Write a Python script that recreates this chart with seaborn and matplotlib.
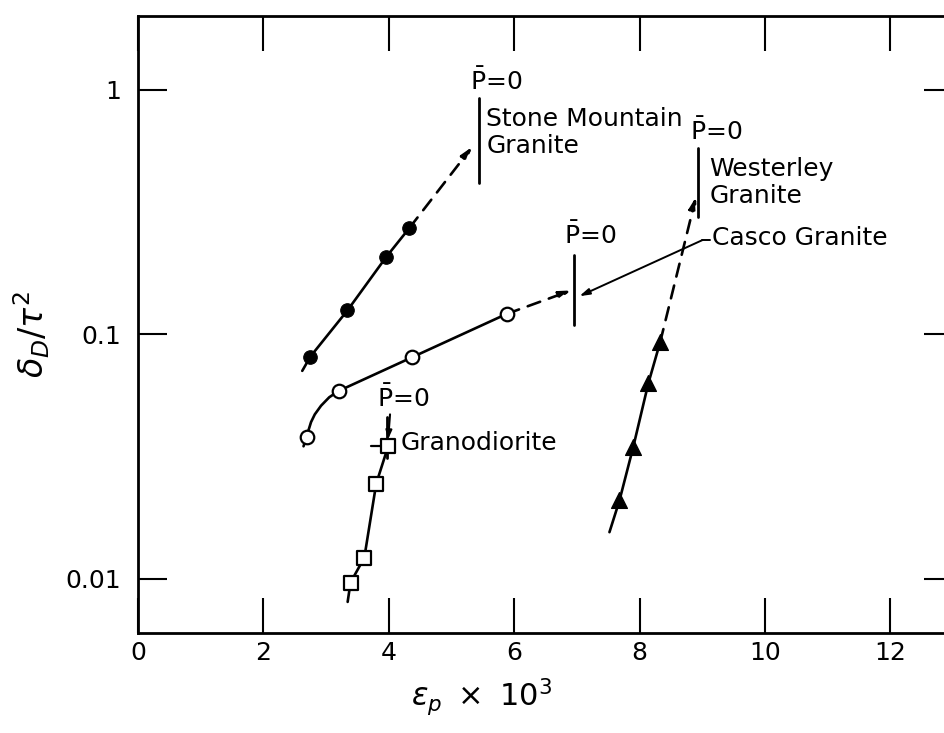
import numpy as np
import pandas as pd
import matplotlib
matplotlib.use("Agg")
import matplotlib.pyplot as plt
import seaborn as sns

# ---- data ----
stone_x = [2.75, 3.34, 3.96, 4.33]
stone_y = [0.081, 0.125, 0.207, 0.272]
casco_x = [2.69, 3.20, 4.37, 5.88]
casco_y = [0.038, 0.0586, 0.0808, 0.121]
grano_x = [3.39, 3.61, 3.80, 3.99]
grano_y = [0.00965, 0.0122, 0.0245, 0.0348]
wester_x = [7.68, 7.90, 8.14, 8.33]
wester_y = [0.0209, 0.0346, 0.0629, 0.093]

# fitted-curve guides
stone_start = (2.62, 0.0708)
stone_tip = (5.33, 0.583)
casco_curve_x = [2.64, 2.69, 2.72, 2.76, 2.82, 2.92, 3.05, 3.20, 5.88]
casco_curve_y = [0.0348, 0.038, 0.0405, 0.0437, 0.0470, 0.0510, 0.0552, 0.0586, 0.121]
casco_tip = (6.91, 0.151)
grano_start = (3.344, 0.00804)
wester_start = (7.52, 0.0155)
wester_tip = (8.90, 0.364)

# P=0 bars: x, y_low, y_high
pzero_bars = {
    "stone": (5.445, 0.415, 0.923),
    "casco": (6.96, 0.109, 0.210),
    "grano": (3.97, 0.0311, 0.0458),
    "wester": (8.94, 0.302, 0.576),
}

x_ticks = [0, 2, 4, 6, 8, 10, 12]
y_ticks = [0.01, 0.1, 1]
y_tick_labels = ["0.01", "0.1", "1"]

sns.set_style("ticks")
plt.rcParams["font.family"] = ["DejaVu Sans"]
plt.rcParams["mathtext.fontset"] = "dejavusans"
plt.rcParams["text.color"] = "black"
plt.rcParams["axes.labelcolor"] = "black"
plt.rcParams["xtick.color"] = "black"
plt.rcParams["ytick.color"] = "black"

fig = plt.figure(figsize=(9.45, 7.33), dpi=100)
ax = fig.add_axes([138 / 945, 100 / 733, (953 - 138) / 945, (633 - 16) / 733])
ax.set_yscale("log")
ax.set_xlim(0, 13)
ax.set_ylim(0.006, 2.0)

K = "black"
LW = 1.9

def line(xs, ys, **kw):
    df = pd.DataFrame({"x": xs, "y": ys})
    sns.lineplot(data=df, x="x", y="y", ax=ax, color=K, lw=kw.pop("lw", LW),
                 sort=False, estimator=None, legend=False, **kw)

def dashed_arrow(p0, p1):
    ax.annotate("", xy=p1, xytext=p0,
                arrowprops=dict(arrowstyle="-|>,head_length=0.7,head_width=0.22",
                                linestyle=(0, (5, 3.5)), lw=LW, color=K,
                                shrinkA=0, shrinkB=0))

# Stone Mountain
line([stone_start[0]] + stone_x, [stone_start[1]] + stone_y)
dashed_arrow((stone_x[-1], stone_y[-1]), stone_tip)
sns.scatterplot(x=stone_x, y=stone_y, ax=ax, marker="o", s=95, color=K,
                edgecolor=K, zorder=5, legend=False)

# Casco
line(casco_curve_x, casco_curve_y)
dashed_arrow((casco_x[-1], casco_y[-1]), casco_tip)
sns.scatterplot(x=casco_x, y=casco_y, ax=ax, marker="o", s=95, facecolor="white",
                edgecolor=K, linewidth=1.6, zorder=5, legend=False)

# Granodiorite
line([grano_start[0]] + grano_x, [grano_start[1]] + grano_y)
sns.scatterplot(x=grano_x, y=grano_y, ax=ax, marker="s", s=90, facecolor="white",
                edgecolor=K, linewidth=1.6, zorder=5, legend=False)
ax.annotate("", xy=(grano_x[-1], 0.0372), xytext=(4.02, 0.047),
            arrowprops=dict(arrowstyle="-|>,head_length=0.5,head_width=0.18",
                            lw=1.5, color=K, shrinkA=0, shrinkB=0))
ax.plot([3.72, 3.92], [grano_y[-1], grano_y[-1]], color=K, lw=1.6)

# Westerley
line([wester_start[0]] + wester_x, [wester_start[1]] + wester_y)
dashed_arrow((wester_x[-1], wester_y[-1]), wester_tip)
sns.scatterplot(x=wester_x, y=wester_y, ax=ax, marker="^", s=130, color=K,
                edgecolor=K, zorder=5, legend=False)

# P=0 bars
for xb, ylo, yhi in pzero_bars.values():
    ax.plot([xb, xb], [ylo, yhi], color=K, lw=2.0)

# Casco leader
ax.plot([9.0, 9.13], [0.2423, 0.2423], color=K, lw=1.4)
ax.annotate("", xy=(7.04, 0.143), xytext=(9.0, 0.2423),
            arrowprops=dict(arrowstyle="-|>,head_length=0.6,head_width=0.18",
                            lw=1.4, color=K, shrinkA=0, shrinkB=0))

# Text labels
FS = 18
pbar = r"$\bar{\mathrm{P}}$=0"
ax.text(5.30, 1.076, pbar, fontsize=FS, ha="left", va="center")
ax.text(5.556, 0.667, "Stone Mountain\nGranite", fontsize=FS, ha="left",
        va="center", linespacing=1.15)
ax.text(8.805, 0.672, pbar, fontsize=FS, ha="left", va="center")
ax.text(9.115, 0.417, "Westerley\nGranite", fontsize=FS, ha="left",
        va="center", linespacing=1.15)
ax.text(6.80, 0.254, pbar, fontsize=FS, ha="left", va="center")
ax.text(9.16, 0.247, "Casco Granite", fontsize=FS, ha="left", va="center")
ax.text(3.818, 0.0547, pbar, fontsize=FS, ha="left", va="center")
ax.text(4.196, 0.0358, "Granodiorite", fontsize=FS, ha="left", va="center")

# Axes styling
ax.set_xticks(x_ticks)
ax.set_xticklabels([str(t) for t in x_ticks])
ax.set_yticks(y_ticks)
ax.set_yticklabels(y_tick_labels)
ax.yaxis.set_minor_locator(matplotlib.ticker.NullLocator())
ax.tick_params(axis="x", which="major", direction="in", length=25, width=1.5,
               top=True, bottom=True, labelsize=18, pad=6, colors=K)
ax.tick_params(axis="y", which="major", direction="in", length=21, width=1.5,
               left=True, right=True, labelsize=18, pad=12, colors=K)
for sp in ax.spines.values():
    sp.set_visible(True)
    sp.set_linewidth(2.0)
    sp.set_color(K)

ax.set_xlabel(r"$\epsilon_p\ \times\ 10^3$", fontsize=22, color=K)
ax.xaxis.set_label_coords(0.421, -0.07)
ax.set_ylabel(r"$\delta_D/\tau^2$", fontsize=24, color=K)
ax.yaxis.set_label_coords(-0.105, 0.483)

fig.savefig("out.png", dpi=100)
